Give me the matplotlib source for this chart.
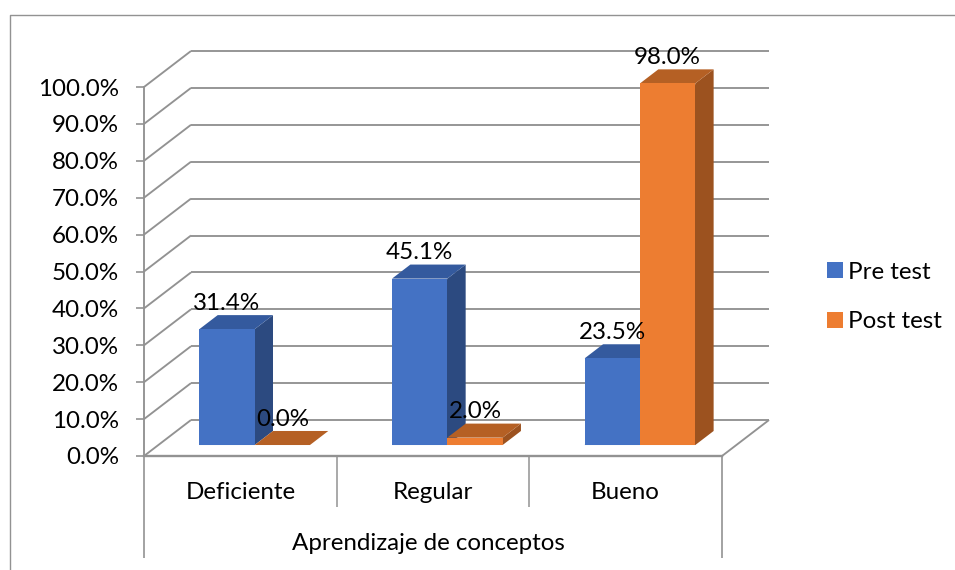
import matplotlib
matplotlib.use('Agg')
import matplotlib.pyplot as plt
from matplotlib.patches import Polygon, Patch
from matplotlib.lines import Line2D

plt.rcParams['font.family'] = ['Lato', 'DejaVu Sans']

categories = ['Deficiente', 'Regular', 'Bueno']
pre_test = [31.4, 45.1, 23.5]
post_test = [0.0, 2.0, 98.0]
y_ticks = [0, 10, 20, 30, 40, 50, 60, 70, 80, 90, 100]
axis_title = 'Aprendizaje de conceptos'

W, H = 955, 570
GRID = '#929292'
FS = 17.4

fig = plt.figure(figsize=(W / 100, H / 100), dpi=100)
ax = fig.add_axes([144 / W, (H - 456) / H, 578 / W, 369 / H])
ax.set_xlim(0, 3)
ax.set_ylim(0, 100)
ax.patch.set_visible(False)

# pixels per data unit, used for the fake depth of the 3d look
px_x = 578 / 3
px_y = 369 / 100


def project(x, y, d):
    # d is depth: 0 front plane, 1 back wall
    return x + d * 47 / px_x, y + d * 36 / px_y


def add_line(x0, y0, d0, x1, y1, d1, lw=1.35, z=1):
    a = project(x0, y0, d0)
    b = project(x1, y1, d1)
    ax.plot([a[0], b[0]], [a[1], b[1]], color=GRID, lw=lw, clip_on=False, zorder=z,
            solid_capstyle='butt')


def draw_bar(x0, x1, v, front, side, top):
    d0 = 0.305
    d1 = 0.695
    z = 3 + x0
    p = [project(x0, 0, d0), project(x1, 0, d0), project(x1, 0, d1), project(x1, v, d1), project(x1, v, d0)]
    ax.add_patch(Polygon(p, closed=True, fc=side, ec='none', clip_on=False, zorder=z))
    p = [project(x0, v, d0), project(x1, v, d0), project(x1, v, d1), project(x0, v, d1)]
    ax.add_patch(Polygon(p, closed=True, fc=top, ec='none', clip_on=False, zorder=z))
    if v > 0:
        p = [project(x0, 0, d0), project(x1, 0, d0), project(x1, v, d0), project(x0, v, d0)]
        ax.add_patch(Polygon(p, closed=True, fc=front, ec='none', clip_on=False, zorder=z))
    lx, ly = project((x0 + x1) / 2, v, d0)
    ax.annotate('%.1f%%' % v, (lx, ly), xytext=(0, 18.5), textcoords='offset points',
                ha='center', va='center', fontsize=FS, color='black', zorder=20,
                annotation_clip=False)


# walls
for v in y_ticks:
    add_line(0, v, 0, 0, v, 1)
    add_line(0, v, 1, 3, v, 1)
add_line(3, 0, 0, 3, 0, 1)

bar_w = 0.287
for i in range(len(categories)):
    draw_bar(i + 0.5 - bar_w, i + 0.5, pre_test[i], '#4472C4', '#2C4A80', '#345A9E')
    draw_bar(i + 0.5, i + 0.5 + bar_w, post_test[i], '#ED7D31', '#9C521F', '#B56024')

# axes
for s in ['top', 'right']:
    ax.spines[s].set_visible(False)
ax.spines['left'].set_color(GRID)
ax.spines['left'].set_linewidth(1.35)
ax.spines['bottom'].set_color(GRID)
ax.spines['bottom'].set_linewidth(1.7)
ax.set_yticks(y_ticks)
ax.set_yticklabels(['%.1f%%' % v for v in y_ticks], fontsize=FS, color='black')
ax.tick_params(axis='y', length=6, width=1.2, color=GRID, pad=12)
ax.set_xticks([0.5, 1.5, 2.5])
ax.set_xticklabels(categories, fontsize=FS, color='black')
ax.tick_params(axis='x', length=0, pad=19)

# multi level category dividers
ax.vlines([1, 2], -51 / px_y, 0, color=GRID, lw=1.1, clip_on=False)
ax.vlines([0, 3], -102 / px_y, 0, color=GRID, lw=1.2, clip_on=False)
ax.text(1.475, -87.5 / px_y, axis_title, ha='center', va='center', fontsize=FS, color='black')

# chart frame, cut by the picture edge
fig.add_artist(Line2D([10 / W, 10 / W, 1], [0, (H - 15) / H, (H - 15) / H], color=GRID, lw=1.0))

handles = [Patch(fc='#4472C4', label='Pre test'), Patch(fc='#ED7D31', label='Post test')]
fig.legend(handles=handles, loc='center left', bbox_to_anchor=(825 / W, (H - 297) / H),
           frameon=False, fontsize=FS, handlelength=0.65, handleheight=0.65, handletextpad=0.2,
           labelspacing=1.18, borderpad=0.1, borderaxespad=0)

fig.savefig('out.png', dpi=100)
